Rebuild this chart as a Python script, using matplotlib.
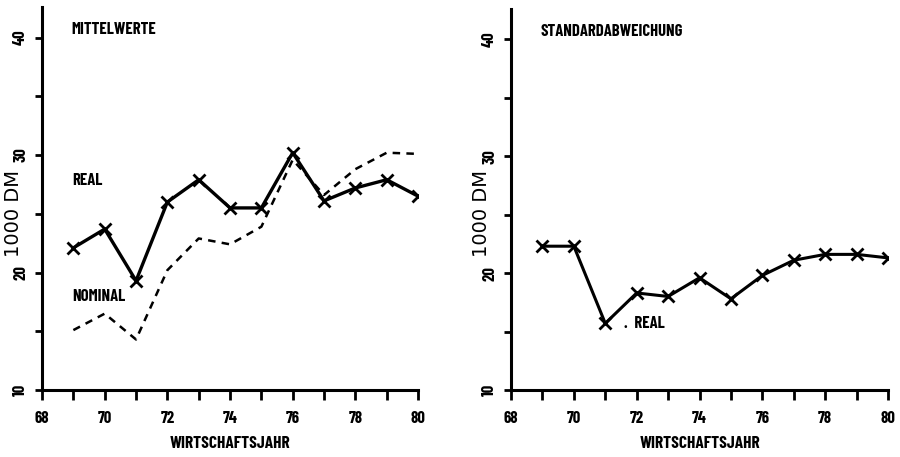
import matplotlib
matplotlib.use("Agg")
import matplotlib.pyplot as plt

years = [69, 70, 71, 72, 73, 74, 75, 76, 77, 78, 79, 80]
mittel_real = [22.1, 23.7, 19.3, 26.0, 27.9, 25.5, 25.5, 30.2, 26.1, 27.2, 27.9, 26.5]
mittel_nominal = [15.1, 16.5, 14.3, 20.2, 22.9, 22.4, 23.9, 29.6, 26.6, 28.8, 30.2, 30.1]
std_real = [22.3, 22.3, 15.7, 18.3, 18.0, 19.6, 17.8, 19.8, 21.1, 21.6, 21.6, 21.3]

xticks = [68, 70, 72, 74, 76, 78, 80]
yticks = [10, 20, 30, 40]
ylabel = "1000 DM"
xlabel = "WIRTSCHAFTSJAHR"

FONT = dict(family=["Barlow Condensed", "DejaVu Sans"], fontweight="bold")

fig = plt.figure(figsize=(9, 4.57), dpi=100)
ax1 = fig.add_axes([0.0467, 0.1466, 0.4178, 0.838])
ax2 = fig.add_axes([0.5678, 0.1466, 0.4189, 0.834])

def style(ax):
    ax.set_xlim(68, 80)
    ax.set_ylim(10, 42.6)
    for s in ("top", "right"):
        ax.spines[s].set_visible(False)
    for s in ("left", "bottom"):
        ax.spines[s].set_linewidth(2.2)
    ax.set_xticks(range(68, 81), minor=True)
    ax.set_xticks(xticks)
    ax.set_xticklabels([str(v) for v in xticks], fontsize=12, **FONT)
    ax.set_yticks([15, 25, 35], minor=True)
    ax.set_yticks(yticks)
    ax.set_yticklabels([str(v) for v in yticks], fontsize=12, rotation=90,
                       va="center", **FONT)
    ax.tick_params(axis="both", which="both", direction="out", length=7,
                   width=2, color="black")
    ax.tick_params(axis="y", which="both", length=5)
    ax.tick_params(axis="x", pad=8)
    ax.tick_params(axis="y", pad=5)
    ax.set_xlabel(xlabel, fontsize=12.5, labelpad=7, **FONT)
    ax.set_ylabel(ylabel, fontsize=14, family="DejaVu Sans",
                  fontweight="normal", va="center")
    ax.yaxis.set_label_coords(-0.077, 0.462)

style(ax1)
style(ax2)

ax1.plot(years, mittel_real, color="black", lw=2.4, marker="x",
         markersize=9, markeredgewidth=2)
ax1.plot(years, mittel_nominal, color="black", lw=1.8, ls=(0, (3, 2.5)))
ax1.text(68.95, 40.7, "MITTELWERTE", fontsize=12, va="center", **FONT)
ax1.text(68.95, 27.8, "REAL", fontsize=12, va="center", **FONT)
ax1.text(68.95, 18.0, "NOMINAL", fontsize=12, va="center", **FONT)

ax2.plot(years, std_real, color="black", lw=2.2, marker="x",
         markersize=9, markeredgewidth=2)
ax2.text(68.95, 40.7, "STANDARDABWEICHUNG", fontsize=12, va="center", **FONT)
ax2.text(71.6, 15.7, ".  REAL", fontsize=12, va="center", **FONT)

fig.savefig("out.png", dpi=100)
